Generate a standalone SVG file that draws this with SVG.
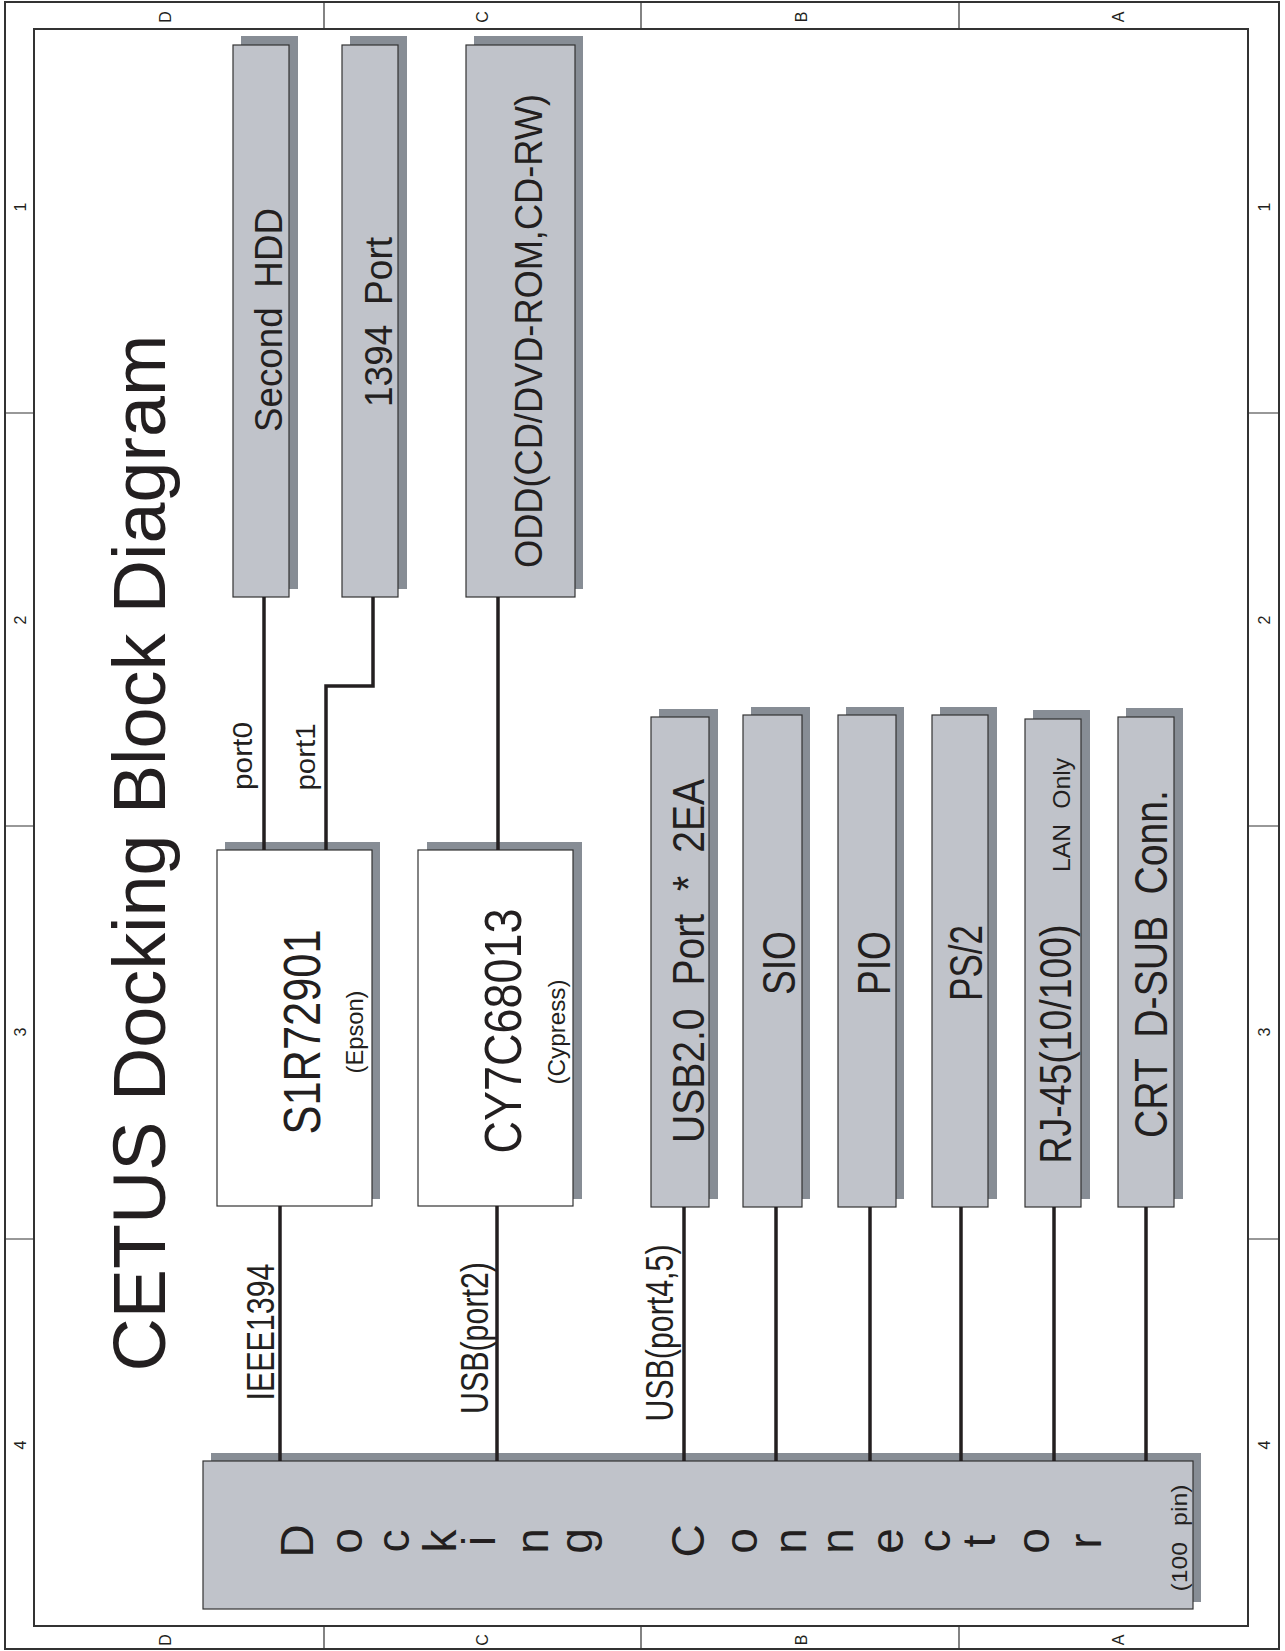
<svg xmlns="http://www.w3.org/2000/svg" width="1285" height="1651" viewBox="0 0 1285 1651">
<style>
.frame{fill:none;stroke:#333;stroke-width:2}
.div{stroke:#333;stroke-width:1.2}
.box{fill:#c0c3ca;stroke:#333;stroke-width:1.2}
.chip{fill:#fff;stroke:#333;stroke-width:1.2}
.sh{fill:#878d95}
.t{font-family:"Liberation Sans",Arial,sans-serif;fill:#231f20;text-anchor:middle}
.lbl{font-family:"Liberation Sans",Arial,sans-serif;fill:#231f20;text-anchor:middle;font-size:16px}
.wire{stroke:#231f20;stroke-width:3.5;fill:none}
</style>
<rect width="1285" height="1651" fill="#fff"/>
<g id="frame">
<rect class="frame" x="5" y="2" width="1274" height="1647"/>
<rect class="frame" x="34" y="29" width="1214" height="1597"/>
<path class="div" d="M324 2V29M641 2V29M959 2V29M324 1626V1649M641 1626V1649M959 1626V1649M5 413H34M5 826H34M5 1239H34M1248 413H1279M1248 826H1279M1248 1239H1279"/>
<text class="lbl" transform="translate(171,17) rotate(-90)">D</text>
<text class="lbl" transform="translate(488,17) rotate(-90)">C</text>
<text class="lbl" transform="translate(807,17) rotate(-90)">B</text>
<text class="lbl" transform="translate(1124,17) rotate(-90)">A</text>
<text class="lbl" transform="translate(171,1640) rotate(-90)">D</text>
<text class="lbl" transform="translate(488,1640) rotate(-90)">C</text>
<text class="lbl" transform="translate(807,1640) rotate(-90)">B</text>
<text class="lbl" transform="translate(1124,1640) rotate(-90)">A</text>
<text class="lbl" transform="translate(26,207) rotate(-90)">1</text>
<text class="lbl" transform="translate(26,620) rotate(-90)">2</text>
<text class="lbl" transform="translate(26,1032) rotate(-90)">3</text>
<text class="lbl" transform="translate(26,1445) rotate(-90)">4</text>
<text class="lbl" transform="translate(1270,207) rotate(-90)">1</text>
<text class="lbl" transform="translate(1270,620) rotate(-90)">2</text>
<text class="lbl" transform="translate(1270,1032) rotate(-90)">3</text>
<text class="lbl" transform="translate(1270,1445) rotate(-90)">4</text>
</g>
<g id="title">
<text class="t" transform="translate(165,853) rotate(-90)" font-size="74" textLength="1037" lengthAdjust="spacingAndGlyphs">CETUS Docking Block Diagram</text>
</g>
<g id="second-hdd">
<rect class="sh" x="241" y="36" width="57" height="553"/>
<rect class="box" x="233" y="45" width="56" height="552"/>
<text class="t" transform="translate(282,320) rotate(-90)" font-size="39" style="word-spacing:10px" textLength="224" lengthAdjust="spacingAndGlyphs">Second HDD</text>
</g>
<g id="port-1394">
<rect class="sh" x="350" y="36" width="57" height="553"/>
<rect class="box" x="342" y="45" width="56" height="552"/>
<text class="t" transform="translate(392,322) rotate(-90)" font-size="39" style="word-spacing:10px" textLength="170" lengthAdjust="spacingAndGlyphs">1394 Port</text>
</g>
<g id="odd">
<rect class="sh" x="474" y="36" width="109" height="553"/>
<rect class="box" x="466" y="45" width="109" height="552"/>
<text class="t" transform="translate(542,331) rotate(-90)" font-size="39" textLength="474" lengthAdjust="spacingAndGlyphs">ODD(CD/DVD-ROM,CD-RW)</text>
</g>
<g id="s1r72901">
<rect class="sh" x="225" y="842" width="155" height="357"/>
<rect class="chip" x="217" y="850" width="155" height="356"/>
<text class="t" transform="translate(320,1032) rotate(-90)" font-size="51" textLength="205" lengthAdjust="spacingAndGlyphs">S1R72901</text>
<text class="t" transform="translate(363,1032) rotate(-90)" font-size="24" textLength="83" lengthAdjust="spacingAndGlyphs">(Epson)</text>
</g>
<g id="cy7c68013">
<rect class="sh" x="427" y="842" width="155" height="357"/>
<rect class="chip" x="418" y="850" width="155" height="356"/>
<text class="t" transform="translate(521,1031) rotate(-90)" font-size="52" textLength="245" lengthAdjust="spacingAndGlyphs">CY7C68013</text>
<text class="t" transform="translate(565,1032) rotate(-90)" font-size="24" textLength="105" lengthAdjust="spacingAndGlyphs">(Cypress)</text>
</g>
<g id="usb20">
<rect class="sh" x="659" y="709" width="59" height="490"/>
<rect class="box" x="651" y="717" width="58" height="490"/>
<text class="t" transform="translate(704,961) rotate(-90)" font-size="45" style="word-spacing:14px" textLength="364" lengthAdjust="spacingAndGlyphs">USB2.0 Port * 2EA</text>
</g>
<g id="sio">
<rect class="sh" x="751" y="707" width="59" height="492"/>
<rect class="box" x="743" y="715" width="59" height="492"/>
<text class="t" transform="translate(795,963) rotate(-90)" font-size="46" textLength="64" lengthAdjust="spacingAndGlyphs">SIO</text>
</g>
<g id="pio">
<rect class="sh" x="846" y="707" width="58" height="492"/>
<rect class="box" x="838" y="715" width="58" height="492"/>
<text class="t" transform="translate(890,963) rotate(-90)" font-size="46" textLength="64" lengthAdjust="spacingAndGlyphs">PIO</text>
</g>
<g id="ps2">
<rect class="sh" x="940" y="707" width="57" height="492"/>
<rect class="box" x="932" y="715" width="56" height="492"/>
<text class="t" transform="translate(982,963) rotate(-90)" font-size="46" textLength="76" lengthAdjust="spacingAndGlyphs">PS/2</text>
</g>
<g id="rj45">
<rect class="sh" x="1033" y="710" width="57" height="489"/>
<rect class="box" x="1025" y="719" width="56" height="488"/>
<text class="t" transform="translate(1071,1044) rotate(-90)" font-size="44" textLength="239" lengthAdjust="spacingAndGlyphs">RJ-45(10/100)</text>
<text class="t" transform="translate(1070,815) rotate(-90)" font-size="24" style="word-spacing:8px" textLength="114" lengthAdjust="spacingAndGlyphs">LAN Only</text>
</g>
<g id="crt">
<rect class="sh" x="1126" y="708" width="57" height="491"/>
<rect class="box" x="1118" y="717" width="56" height="490"/>
<text class="t" transform="translate(1167,964) rotate(-90)" font-size="46" style="word-spacing:12px" textLength="348" lengthAdjust="spacingAndGlyphs">CRT D-SUB Conn.</text>
</g>
<g id="docking-connector">
<rect class="sh" x="211" y="1453" width="990" height="149"/>
<rect class="box" x="203" y="1461" width="990" height="148"/>
<g transform="translate(0,1541) rotate(-90)">
<text class="t" font-size="46"><tspan x="0" y="313">D</tspan><tspan x="0" y="362">o</tspan><tspan x="0" y="409">c</tspan><tspan x="0" y="456">k</tspan><tspan x="0" y="495">i</tspan><tspan x="0" y="548">n</tspan><tspan x="0" y="592">g</tspan><tspan x="0" y="704">C</tspan><tspan x="0" y="757">o</tspan><tspan x="0" y="806">n</tspan><tspan x="0" y="853">n</tspan><tspan x="0" y="903">e</tspan><tspan x="0" y="950">c</tspan><tspan x="0" y="995">t</tspan><tspan x="0" y="1049">o</tspan><tspan x="0" y="1101">r</tspan></text>
</g>
<text class="t" transform="translate(1187,1538) rotate(-90)" font-size="22" style="word-spacing:8px" textLength="107" lengthAdjust="spacingAndGlyphs">(100 pin)</text>
</g>
<g id="connectors">
<path class="wire" d="M264 597V850"/>
<path class="wire" d="M373 597V686H326V850"/>
<path class="wire" d="M498 597V850"/>
<path class="wire" d="M280 1206V1461"/>
<path class="wire" d="M497 1206V1461"/>
<path class="wire" d="M684 1207V1461"/>
<path class="wire" d="M776 1207V1461"/>
<path class="wire" d="M870 1207V1461"/>
<path class="wire" d="M961 1207V1461"/>
<path class="wire" d="M1054 1207V1461"/>
<path class="wire" d="M1146 1207V1461"/>
</g>
<g id="connector-labels">
<text class="t" transform="translate(252,756) rotate(-90)" font-size="28" textLength="68" lengthAdjust="spacingAndGlyphs">port0</text>
<text class="t" transform="translate(315,757) rotate(-90)" font-size="28" textLength="67" lengthAdjust="spacingAndGlyphs">port1</text>
<text class="t" transform="translate(274,1332) rotate(-90)" font-size="38" textLength="137" lengthAdjust="spacingAndGlyphs">IEEE1394</text>
<text class="t" transform="translate(488,1338) rotate(-90)" font-size="38" textLength="152" lengthAdjust="spacingAndGlyphs">USB(port2)</text>
<text class="t" transform="translate(673,1333) rotate(-90)" font-size="38" textLength="177" lengthAdjust="spacingAndGlyphs">USB(port4,5)</text>
</g>
</svg>
